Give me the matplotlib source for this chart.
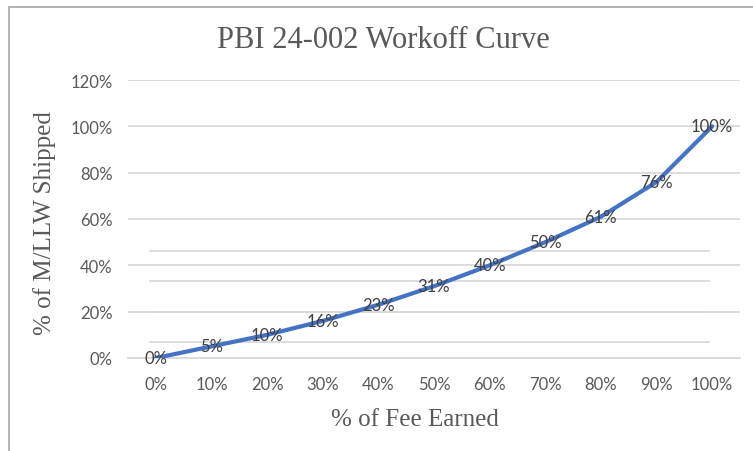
import matplotlib.pyplot as plt
from matplotlib.patches import Rectangle
from matplotlib.ticker import PercentFormatter

# data
fee_labels = ["0%", "10%", "20%", "30%", "40%", "50%", "60%", "70%", "80%", "90%", "100%"]
shipped = [0, 5, 10, 16, 23, 31, 40, 50, 61, 76, 100]
# faint extra rules visible behind the curve in the screenshot
extra_rules = [6.9, 19.9, 33.3, 46.2]

fig = plt.figure(figsize=(7.53, 4.52), dpi=100)
fig.patch.set_facecolor('white')
ax = fig.add_axes([128 / 753, 1 - 359 / 452, 612 / 753, 278 / 452])

# outer chart border (cropped at right and bottom)
fig.patches.append(Rectangle((9 / 753, -0.1), 1.2, 1 - 8 / 452 + 0.1, transform=fig.transFigure,
                             fill=False, edgecolor='#A6A6A6', linewidth=1.2))

x = list(range(len(fee_labels)))
for r in extra_rules:
    ax.plot([-0.1, 9.95], [r, r], color='#D9D9D9', linewidth=1.3, zorder=1)

ax.plot(x, shipped, color='#4472C4', linewidth=3, solid_joinstyle='round',
        solid_capstyle='round', zorder=3)
for xi, v in zip(x, shipped):
    ax.text(xi, v, f"{v}%", ha='center', va='center', fontsize=12,
            color='#404040', family='Lato', zorder=4)

ax.set_xlim(-0.5, 10.5)
ax.set_ylim(0, 120)
ax.set_yticks(range(0, 121, 20))
ax.yaxis.set_major_formatter(PercentFormatter(decimals=0))
ax.set_xticks(x)
ax.set_xticklabels(fee_labels)
ax.grid(axis='y', color='#D9D9D9', linewidth=1.3, zorder=0)
ax.set_axisbelow(True)
for s in ax.spines.values():
    s.set_visible(False)
ax.spines['bottom'].set_visible(True)
ax.spines['bottom'].set_color('#D9D9D9')
ax.spines['bottom'].set_linewidth(1.3)
ax.tick_params(length=0, labelsize=12, labelcolor='#595959')
ax.tick_params(axis='x', pad=13)
ax.tick_params(axis='y', pad=11)
for lbl in ax.get_xticklabels() + ax.get_yticklabels():
    lbl.set_family('Lato')

fig.text(383 / 753, 1 - 40 / 452, "PBI 24-002 Workoff Curve", ha='center', va='center',
         fontsize=22, color='#595959', family='Liberation Serif')
fig.text(415 / 753, 1 - 420 / 452, "% of Fee Earned", ha='center', va='center',
         fontsize=18, color='#595959', family='Liberation Serif')
fig.text(45 / 753, 1 - 223 / 452, "% of M/LLW Shipped", ha='center', va='center',
         rotation=90, fontsize=18, color='#595959', family='Liberation Serif')

fig.savefig('out.png', dpi=100)
